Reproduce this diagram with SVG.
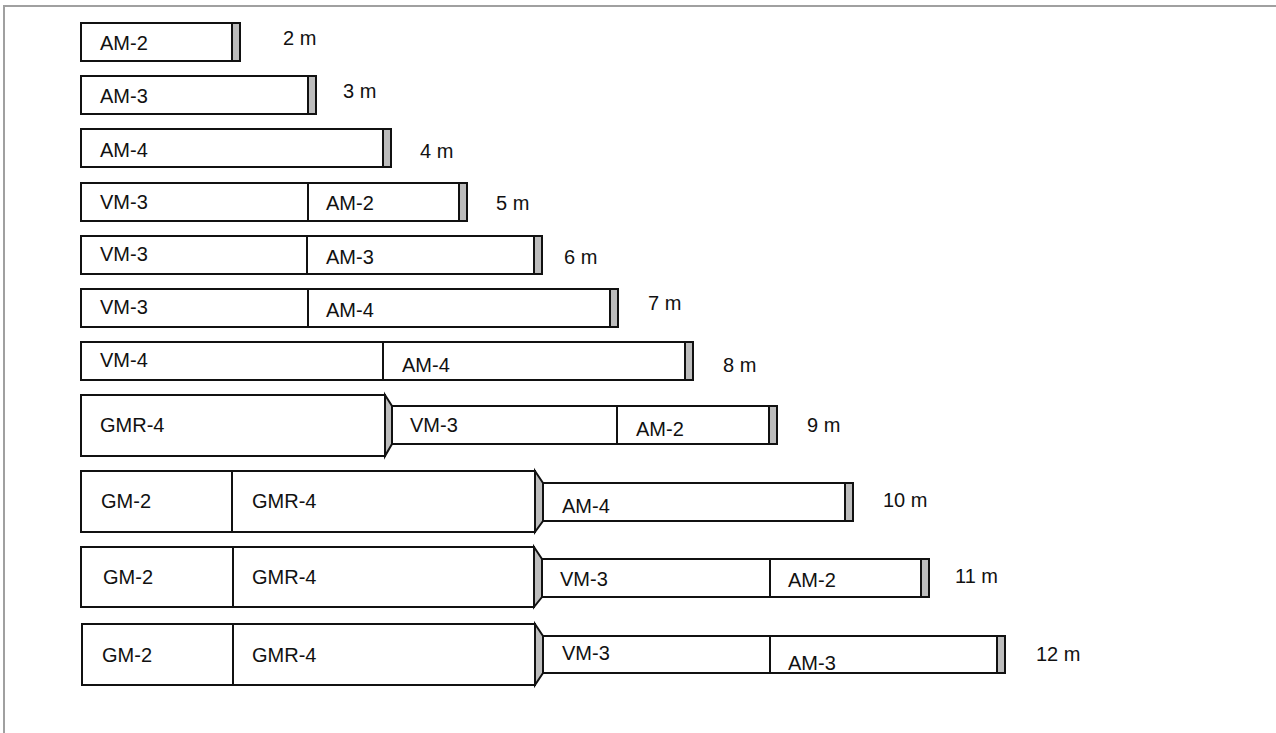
<svg xmlns="http://www.w3.org/2000/svg" width="1276" height="733" viewBox="0 0 1276 733">
<style>
.b{fill:#fff;stroke:#111;stroke-width:2}
.c{fill:#bdbdbd;stroke:#111;stroke-width:2}
.d{stroke:#111;stroke-width:2}
text{font-family:"Liberation Sans",Arial,sans-serif;font-size:20px;fill:#111}
</style>
<rect width="1276" height="733" fill="#fff"/>
<path d="M4 733 V6 H1276" fill="none" stroke="#a0a0a0" stroke-width="2"/>
<g id="r2">
<rect class="b" x="81" y="23" width="159" height="38"/>
<rect class="c" x="232" y="23" width="8" height="38"/>
<text x="100" y="50">AM-2</text>
<text x="283" y="45">2 m</text>
</g>
<g id="r3">
<rect class="b" x="81" y="76" width="235" height="38"/>
<rect class="c" x="308" y="76" width="8" height="38"/>
<text x="100" y="103">AM-3</text>
<text x="343" y="98">3 m</text>
</g>
<g id="r4">
<rect class="b" x="81" y="129" width="310" height="38"/>
<rect class="c" x="383" y="129" width="8" height="38"/>
<text x="100" y="157">AM-4</text>
<text x="420" y="158">4 m</text>
</g>
<g id="r5">
<rect class="b" x="81" y="183" width="386" height="38"/>
<line class="d" x1="308" y1="183" x2="308" y2="221"/>
<rect class="c" x="459" y="183" width="8" height="38"/>
<text x="100" y="209">VM-3</text>
<text x="326" y="210">AM-2</text>
<text x="496" y="210">5 m</text>
</g>
<g id="r6">
<rect class="b" x="81" y="236" width="461" height="38"/>
<line class="d" x1="307" y1="236" x2="307" y2="274"/>
<rect class="c" x="534" y="236" width="8" height="38"/>
<text x="100" y="261">VM-3</text>
<text x="326" y="264">AM-3</text>
<text x="564" y="264">6 m</text>
</g>
<g id="r7">
<rect class="b" x="81" y="289" width="537" height="38"/>
<line class="d" x1="308" y1="289" x2="308" y2="327"/>
<rect class="c" x="610" y="289" width="8" height="38"/>
<text x="100" y="314">VM-3</text>
<text x="326" y="317">AM-4</text>
<text x="648" y="310">7 m</text>
</g>
<g id="r8">
<rect class="b" x="81" y="342" width="612" height="38"/>
<line class="d" x1="383" y1="342" x2="383" y2="380"/>
<rect class="c" x="685" y="342" width="8" height="38"/>
<text x="100" y="367">VM-4</text>
<text x="402" y="372">AM-4</text>
<text x="723" y="372">8 m</text>
</g>
<g id="r9">
<rect class="b" x="81" y="395" width="304" height="61"/>
<rect class="b" x="392" y="406" width="385" height="38"/>
<polygon class="c" points="385,395 392,406 392,444 385,456"/>
<line class="d" x1="617" y1="406" x2="617" y2="444"/>
<rect class="c" x="769" y="406" width="8" height="38"/>
<text x="100" y="432">GMR-4</text>
<text x="410" y="432">VM-3</text>
<text x="636" y="436">AM-2</text>
<text x="807" y="432">9 m</text>
</g>
<g id="r10">
<rect class="b" x="81" y="471" width="454" height="61"/>
<line class="d" x1="232" y1="471" x2="232" y2="532"/>
<rect class="b" x="543" y="483" width="310" height="38"/>
<polygon class="c" points="535,471 543,483 543,521 535,532"/>
<rect class="c" x="845" y="483" width="8" height="38"/>
<text x="101" y="508">GM-2</text>
<text x="252" y="508">GMR-4</text>
<text x="562" y="513">AM-4</text>
<text x="883" y="507">10 m</text>
</g>
<g id="r11">
<rect class="b" x="81" y="547" width="453" height="60"/>
<line class="d" x1="233" y1="547" x2="233" y2="607"/>
<rect class="b" x="542" y="559" width="387" height="38"/>
<polygon class="c" points="534,547 542,559 542,597 534,607"/>
<line class="d" x1="770" y1="559" x2="770" y2="597"/>
<rect class="c" x="921" y="559" width="8" height="38"/>
<text x="103" y="584">GM-2</text>
<text x="252" y="584">GMR-4</text>
<text x="560" y="586">VM-3</text>
<text x="788" y="587">AM-2</text>
<text x="955" y="583">11 m</text>
</g>
<g id="r12">
<rect class="b" x="82" y="624" width="453" height="61"/>
<line class="d" x1="233" y1="624" x2="233" y2="685"/>
<rect class="b" x="543" y="636" width="462" height="37"/>
<polygon class="c" points="535,624 543,636 543,673 535,685"/>
<line class="d" x1="770" y1="636" x2="770" y2="673"/>
<rect class="c" x="997" y="636" width="8" height="37"/>
<text x="102" y="662">GM-2</text>
<text x="252" y="662">GMR-4</text>
<text x="562" y="660">VM-3</text>
<text x="788" y="670">AM-3</text>
<text x="1036" y="661">12 m</text>
</g>
</svg>
